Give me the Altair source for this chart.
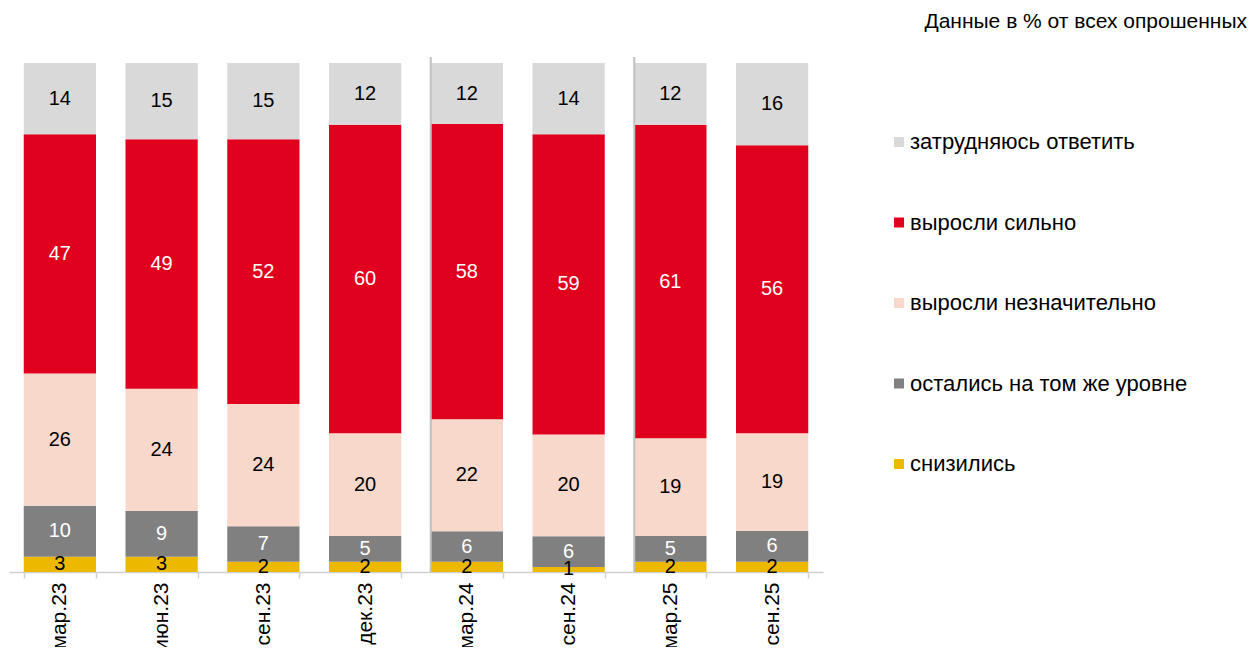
import altair as alt
import pandas as pd

periods = ["мар.23", "июн.23", "сен.23", "дек.23", "мар.24", "сен.24", "мар.25", "сен.25"]
categories = ["снизились", "остались на том же уровне", "выросли незначительно", "выросли сильно", "затрудняюсь ответить"]
legend_order = ["затрудняюсь ответить", "выросли сильно", "выросли незначительно", "остались на том же уровне", "снизились"]
colors = {"затрудняюсь ответить": "#d9d9d9", "выросли сильно": "#e0001e", "выросли незначительно": "#f7d8ca",
          "остались на том же уровне": "#808080", "снизились": "#ecb900"}
text_colors = {"затрудняюсь ответить": "black", "выросли сильно": "white", "выросли незначительно": "black",
               "остались на том же уровне": "white", "снизились": "black"}

snizilis = [3, 3, 2, 2, 2, 1, 2, 2]
ostalis = [10, 9, 7, 5, 6, 6, 5, 6]
neznach = [26, 24, 24, 20, 22, 20, 19, 19]
silno = [47, 49, 52, 60, 58, 59, 61, 56]
zatrud = [14, 15, 15, 12, 12, 14, 12, 16]
series = [snizilis, ostalis, neznach, silno, zatrud]

separators = ["мар.24", "мар.25"]

rows = []
for ci, (cat, vals) in enumerate(zip(categories, series)):
    for p, v in zip(periods, vals):
        rows.append({"period": p, "cat": cat, "value": v, "ord": ci, "tc": text_colors[cat]})
df = pd.DataFrame(rows)

FONT = "Liberation Sans"

xscale = alt.Scale(paddingInner=0.29, paddingOuter=0.145)

base = alt.Chart(df).transform_stack(
    stack="value", as_=["y0", "y1"], groupby=["period"],
    sort=[alt.SortField("ord", order="ascending")], offset="normalize"
).transform_calculate(mid="(datum.y0 + datum.y1) / 2")

xenc = alt.X("period:N", sort=periods, scale=xscale, title=None,
             axis=alt.Axis(labelAngle=-90, labelAlign="right", labelBaseline="middle",
                           labelFontSize=21, labelFont=FONT, labelColor="black",
                           labelPadding=4, tickBand="extent", tickSize=6,
                           domainColor="#d0d0d0", tickColor="#d0d0d0", domainWidth=1.5, tickWidth=1.5))

bars = base.mark_bar().encode(
    x=xenc,
    y=alt.Y("y0:Q", scale=alt.Scale(domain=[0, 1], nice=False, zero=True), axis=None),
    y2="y1:Q",
    color=alt.Color("cat:N", scale=alt.Scale(domain=legend_order, range=[colors[c] for c in legend_order]),
                    legend=alt.Legend(title=None, orient="none", legendX=879, legendY=68,
                                      symbolType="square", symbolSize=100, symbolStrokeWidth=0,
                                      labelFontSize=22, labelFont=FONT, labelColor="black",
                                      rowPadding=58.5, labelOffset=0, labelLimit=400)),
)

labels = base.mark_text(fontSize=20, font=FONT).encode(
    x=alt.X("period:N", sort=periods, scale=xscale),
    y=alt.Y("mid:Q"),
    text="value:Q",
    color=alt.Color("tc:N", scale=None),
)

sep_df = pd.DataFrame({"period": separators})
seps = alt.Chart(sep_df).mark_rule(color="#c0c0c0", strokeWidth=2).encode(
    x=alt.X("period:N", sort=periods, scale=xscale, bandPosition=0),
    y=alt.datum(0),
    y2=alt.value(-6),
)

chart = alt.layer(bars, seps, labels).properties(
    width=814, height=509,
    title=alt.TitleParams("Данные в % от всех опрошенных", anchor="end", frame="group", dx=424, offset=24,
                          fontSize=21, font=FONT, fontWeight="normal", color="black"),
    autosize=alt.AutoSizeParams(type="none"),
    padding={"left": 1, "top": 55, "right": 428, "bottom": 75},
).configure_view(stroke=None)

chart.save("out.html", embed_options={"renderer": "svg", "actions": False})
